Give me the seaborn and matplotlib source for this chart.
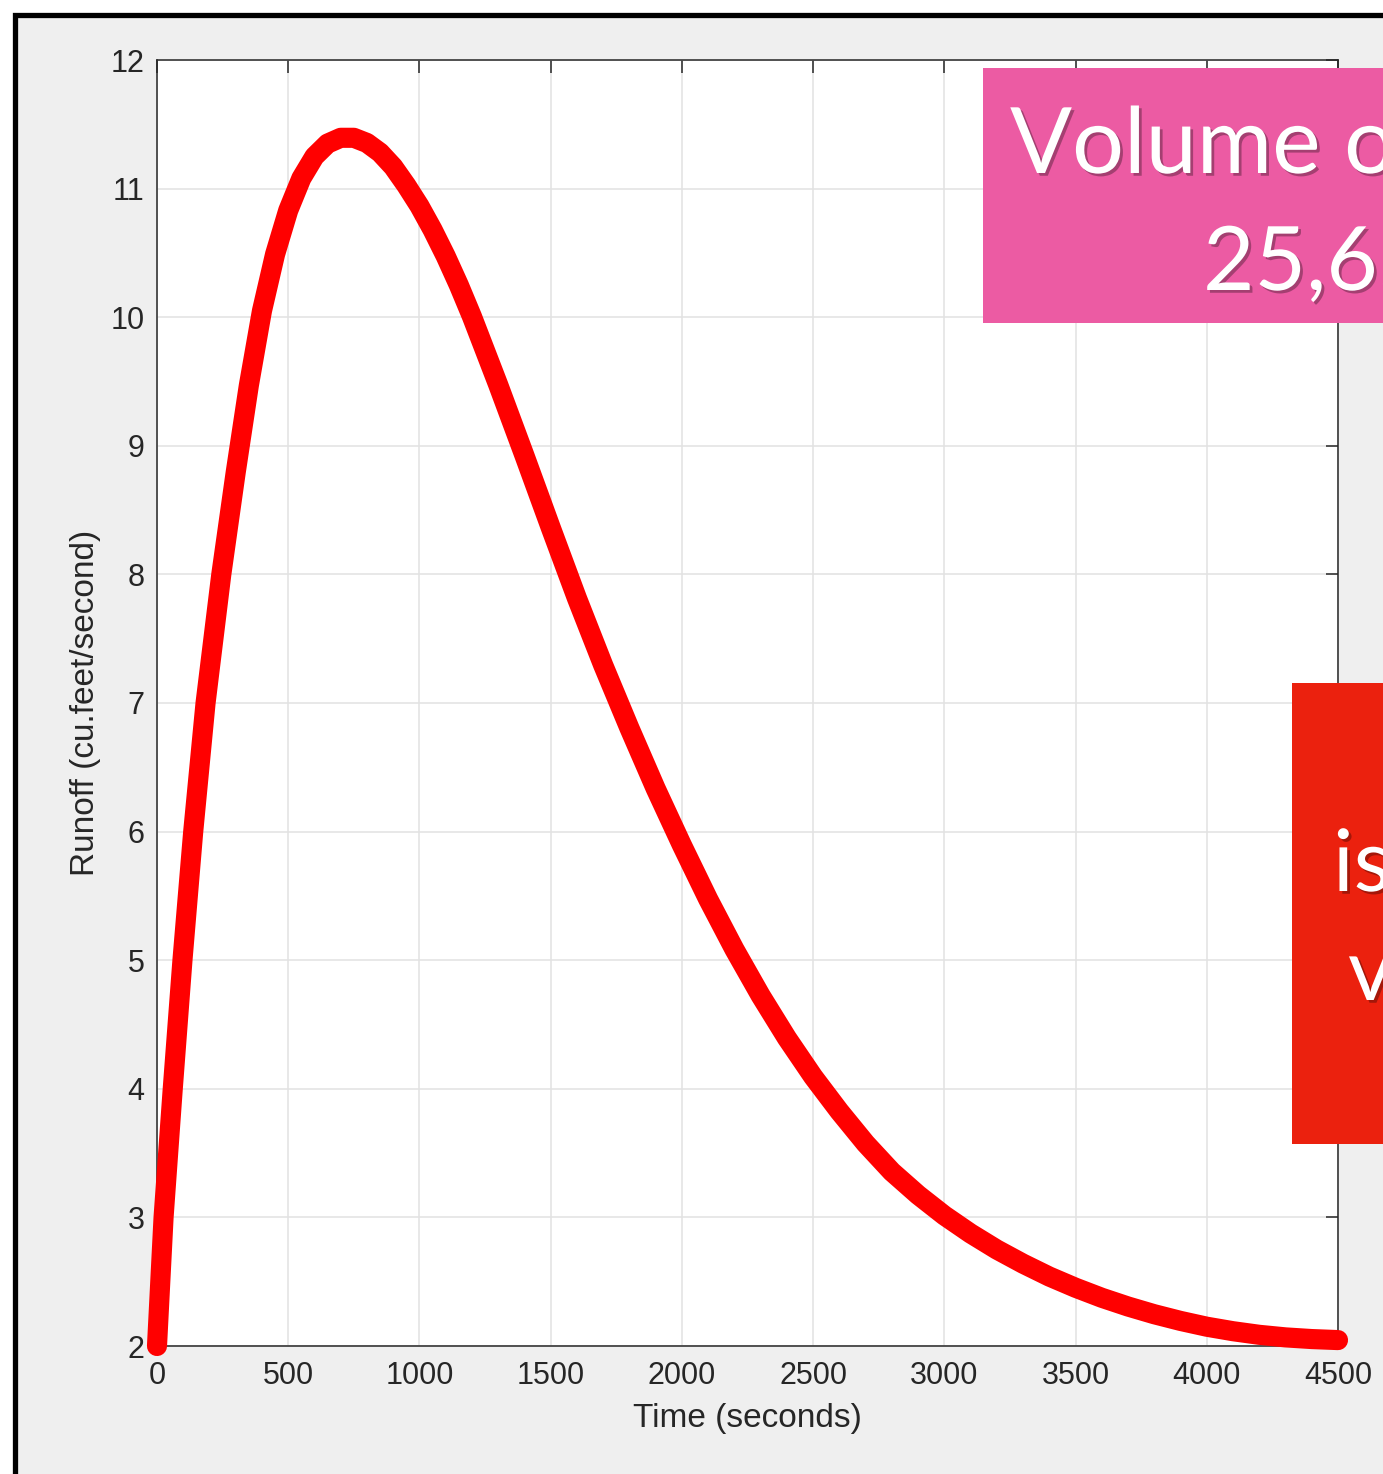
import matplotlib
matplotlib.use("Agg")
import matplotlib.pyplot as plt
import matplotlib.patches as mpatches
import matplotlib.patheffects as pe
import pandas as pd
import seaborn as sns

# Runoff hydrograph samples (time in seconds, runoff in cu.feet/second)
time_s = [0, 25, 60, 97, 138, 185, 245, 300, 350, 400, 450, 500, 550, 600,
          650, 700, 750, 800, 850, 900, 950, 1000, 1050, 1100, 1150, 1200,
          1300, 1400, 1500, 1600, 1700, 1800, 1900, 2000, 2100, 2200, 2300,
          2400, 2500, 2600, 2700, 2800, 2900, 3000, 3100, 3200, 3300, 3400,
          3500, 3600, 3700, 3800, 3900, 4000, 4100, 4200, 4300, 4400, 4500]
runoff_cfs = [2.0, 3.0, 4.0, 5.0, 6.0, 7.0, 8.0, 8.795, 9.47, 10.05, 10.49,
              10.83, 11.08, 11.25, 11.35, 11.395, 11.395, 11.355, 11.28,
              11.17, 11.025, 10.865, 10.68, 10.475, 10.25, 10.005, 9.475,
              8.925, 8.365, 7.815, 7.295, 6.805, 6.335, 5.895, 5.475, 5.085,
              4.725, 4.395, 4.095, 3.825, 3.575, 3.355, 3.175, 3.015, 2.875,
              2.75, 2.64, 2.54, 2.453, 2.375, 2.307, 2.247, 2.195, 2.15,
              2.115, 2.087, 2.067, 2.054, 2.046]

x_ticks = [0, 500, 1000, 1500, 2000, 2500, 3000, 3500, 4000, 4500]
y_ticks = [2, 3, 4, 5, 6, 7, 8, 9, 10, 11, 12]

x_label = "Time (seconds)"
y_label = "Runoff (cu.feet/second)"
volume_lines = ["Volume of", "25,65"]
side_lines = ["is", "v"]

df = pd.DataFrame({"time": time_s, "runoff": runoff_cfs})

sns.set_theme(style="white")
plt.rcParams["font.family"] = ["Liberation Sans", "DejaVu Sans"]

W, H = 1383, 1474
fig = plt.figure(figsize=(W / 100, H / 100), dpi=100, facecolor="white")

# grey panel with a heavy black frame
fig.add_artist(mpatches.Rectangle((14.5 / W, -0.1), 1.2, 1 - 14.5 / H + 0.1,
                                  transform=fig.transFigure, facecolor="#efefef",
                                  edgecolor="black", linewidth=3.8, zorder=-10))

ax = fig.add_axes([157 / W, 1 - 1346 / H, (1338 - 157) / W, (1346 - 60) / H])
ax.set_facecolor("white")

sns.lineplot(data=df, x="time", y="runoff", ax=ax, color="#ff0000",
             linewidth=14.5, sort=False, estimator=None,
             solid_capstyle="round", solid_joinstyle="round", clip_on=False,
             zorder=3)

ax.set_xlim(0, 4500)
ax.set_ylim(2, 12)
ax.set_xticks(x_ticks)
ax.set_yticks(y_ticks)
ax.set_xticklabels([str(v) for v in x_ticks])
ax.set_yticklabels([str(v) for v in y_ticks])

ax.grid(True, color="#e2e2e2", linewidth=1.1)
ax.set_axisbelow(True)
for side in ["left", "right", "top", "bottom"]:
    ax.spines[side].set_visible(True)
    ax.spines[side].set_color("#262626")
    ax.spines[side].set_linewidth(1.1)

ax.tick_params(axis="both", which="major", direction="in", length=9, width=1.1,
               color="#262626", labelcolor="#262626", labelsize=22,
               top=True, right=True)
ax.tick_params(axis="x", pad=11)
ax.tick_params(axis="y", pad=9)

ax.set_xlabel(x_label, fontsize=24, color="#262626")
ax.set_ylabel(y_label, fontsize=24, color="#262626")
ax.xaxis.set_label_coords(0.5, -(1403 - 1346) / (1346 - 60))
ax.yaxis.set_label_coords(-(157 - 101) / (1338 - 157), 0.5)

# callout boxes laid over the plot
shadow = [pe.SimplePatchShadow(offset=(2, -2), shadow_rgbFace="black", alpha=0.3),
          pe.Normal()]

fig.add_artist(mpatches.Rectangle((983 / W, 1 - 323 / H), 0.5, (323 - 68) / H,
                                  transform=fig.transFigure, facecolor="#ec5ba3",
                                  edgecolor="none", zorder=5))
fig.text(1010 / W, 1 - 173 / H, volume_lines[0], fontsize=66, color="white",
         family=["Lato", "DejaVu Sans"], ha="left", va="baseline", zorder=6,
         path_effects=shadow)
fig.text(1203 / W, 1 - 290 / H, volume_lines[1], fontsize=64, color="white",
         family=["Lato", "DejaVu Sans"], ha="left", va="baseline", zorder=6,
         path_effects=shadow)

fig.add_artist(mpatches.Rectangle((1292 / W, 1 - 1144 / H), 0.5, (1144 - 683) / H,
                                  transform=fig.transFigure, facecolor="#eb210e",
                                  edgecolor="none", zorder=5))
fig.text(1333 / W, 1 - 891 / H, side_lines[0], fontsize=62, color="white",
         family=["Lato", "DejaVu Sans"], ha="left", va="baseline", zorder=6,
         path_effects=shadow)
fig.text(1348 / W, 1 - 1000 / H, side_lines[1], fontsize=62, color="white",
         family=["Lato", "DejaVu Sans"], ha="left", va="baseline", zorder=6,
         path_effects=shadow)

fig.savefig("out.png", dpi=100, facecolor=fig.get_facecolor())
